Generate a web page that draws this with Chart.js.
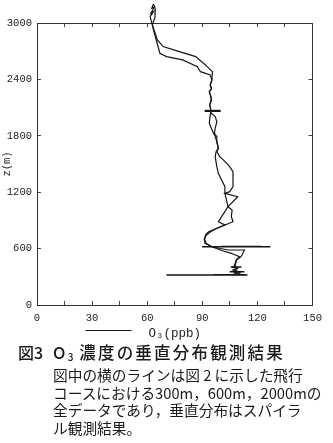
<!DOCTYPE html>
<html><head><meta charset="utf-8">
<script src="https://cdn.jsdelivr.net/npm/chart.js@4/dist/chart.umd.min.js"></script>
<style>
html,body{margin:0;padding:0;background:#fff;}
#wrap{position:relative;width:333px;height:443px;overflow:hidden;}
canvas{position:absolute;left:0;top:0;}
.cap{position:absolute;font-family:"Noto Sans CJK JP","Noto Sans",sans-serif;color:#1a1a1a;white-space:nowrap;}
#fig{left:18px;top:343px;font-size:16px;line-height:19px;font-weight:500;}
#t1{left:53px;top:343px;font-size:16.5px;line-height:19px;letter-spacing:2.2px;font-weight:500;}
#t1 sub{font-size:10px;vertical-align:-2px;letter-spacing:0;}
#body{left:53px;top:366px;font-size:14.7px;line-height:17.5px;}
</style></head>
<body><div id="wrap">
<canvas id="c" width="333" height="345"></canvas>
<div class="cap" id="fig">図3</div>
<div class="cap" id="t1">O<sub>3</sub> 濃度の垂直分布観測結果</div>
<div class="cap" id="body">図中の横のラインは図 2 に示した飛行<br>コースにおける300m，600m，2000mの<br>全データであり，垂直分布はスパイラ<br>ル観測結果。</div>
</div>
<script>
// Spiral profile, path A (O3 ppb, altitude m)
const o3A = [110.0,107.6,110.2,106.7,108.5,107.6,108.5,111.1,112.9,104.0,95.2,92.0,91.3,91.7,93.4,102.3,98.7,100.5,104.0,102.3,102.3,100.5,98.7,97.9,97.0,97.5,98.7,97.9,97.0,96.1,94.9,93.8,94.3,94.5,94.5,94.0,94.9,94.6,93.8,95.0,94.3,95.2,95.5,91.7,86.4,77.5,68.7,65.5,63.4,62.5,61.6,63.4,62.0,63.8,62.5,63.4];
const zA  = [319,340,354,372,390,426,479,514,585,585,620,656,692,745,780,851,886,940,1046,1188,1259,1330,1401,1472,1578,1631,1667,1738,1791,1827,1880,1933,2022,2060,2093,2130,2181,2220,2270,2300,2341,2394,2482,2554,2642,2695,2749,2820,2944,2997,3068,3121,3104,3168,3157,3203];
// Spiral profile, path B
const o3B = [108.0,110.5,107.0,108.0,109.3,106.5,108.0,108.5,110.2,105.8,100.5,95.2,91.5,91.0,92.2,94.5,97.9,102.3,106.7,105.8,106.2,104.0,109.3,102.3,104.9,106.7,106.7,106.7,104.9,102.4,99.5,97.9,98.7,97.9,97.9,96.6,97.0,97.9,97.0,94.9,94.5,94.5,94.0,94.9,94.6,93.8,95.0,94.3,95.2,94.3,89.0,87.3,79.3,70.5,66.9,63.4,62.8,64.2,64.4,63.4];
const zB  = [319,340,354,372,390,405,426,479,514,550,580,620,656,700,745,780,816,851,886,940,1011,1046,1152,1188,1206,1259,1330,1418,1472,1525,1578,1631,1667,1738,1791,1827,1880,1950,2004,2040,2060,2093,2130,2181,2220,2270,2300,2341,2394,2447,2482,2536,2607,2642,2678,2926,2980,3060,3150,3203];
// Horizontal flight legs (300 m, 600 m, 2000 m)
const o3Leg300 = [70.5,114.6,96.0,113.5,105.5,111.3,104.9,112.9];
const zLeg300  = [319,319,322,322,405,405,354,354];
const o3Leg600 = [89.9,127.0,100.0,122.0];
const zLeg600  = [620,620,622,622];
const o3Leg2000 = [91.3,100.0];
const zLeg2000  = [2065,2065];
const xTicks = [0,30,60,90,120,150];
const yTicks = [0,600,1200,1800,2400,3000];

function pts(xs, zs){ return xs.map((v,i)=>({x:v,y:zs[i]})); }
function legPts(xs, zs){ const out=[]; for(let i=0;i<xs.length;i+=2){ out.push({x:xs[i],y:zs[i]},{x:xs[i+1],y:zs[i+1]},{x:NaN,y:NaN}); } return out; }

const lineCol = '#151515';
const tickFont = {family:'"Liberation Mono", "DejaVu Sans Mono", monospace', size:10.5};
const titleFont = {family:'"Liberation Mono", "DejaVu Sans Mono", monospace', size:12.5};

const legLine = {
  id:'legLine',
  afterDraw(chart){
    const ctx = chart.ctx, ca = chart.chartArea;
    ctx.save();
    ctx.font = '12.5px "Liberation Mono", "DejaVu Sans Mono", monospace';
    const w = ctx.measureText('O₃(ppb)').width;
    const cx = (ca.left + ca.right)/2;
    const x2 = cx - w/2 - 17, x1 = x2 - 46;
    ctx.strokeStyle = lineCol; ctx.lineWidth = 1;
    ctx.beginPath(); ctx.moveTo(x1, 330.5); ctx.lineTo(x2, 330.5); ctx.stroke();
    ctx.restore();
  }
};

const dsBase = {showLine:true, pointRadius:0, borderColor:lineCol, backgroundColor:lineCol, clip:false, spanGaps:false, tension:0};
new Chart(document.getElementById('c'), {
  type:'scatter',
  data:{datasets:[
    Object.assign({label:'A', data:pts(o3A,zA), borderWidth:1.2}, dsBase),
    Object.assign({label:'B', data:pts(o3B,zB), borderWidth:1.2}, dsBase),
    Object.assign({label:'300m', data:legPts(o3Leg300,zLeg300), borderWidth:1.6}, dsBase),
    Object.assign({label:'600m', data:legPts(o3Leg600,zLeg600), borderWidth:1.5}, dsBase),
    Object.assign({label:'2000m', data:legPts(o3Leg2000,zLeg2000), borderWidth:2.2}, dsBase)
  ]},
  options:{
    responsive:false, animation:false,
    layout:{padding:{top:23,right:13,left:0,bottom:0}},
    plugins:{legend:{display:false}, tooltip:{enabled:false}},
    scales:{
      x:{type:'linear', position:'bottom', min:0, max:150,
        afterBuildTicks(s){ const t=[]; for(let v=0; v<=150; v+=15) t.push({value:v}); s.ticks=t; },
        ticks:{font:tickFont, color:'#222', padding:11, maxRotation:0, autoSkip:false,
          callback:(v)=> xTicks.includes(v) ? String(v) : ''},
        grid:{drawOnChartArea:false, drawTicks:true, tickLength:-4, color:'#444'},
        border:{display:true, color:'#333', width:1},
        title:{display:true, text:'O₃(ppb)', font:titleFont, color:'#222', padding:{top:0,bottom:4}},
        afterFit(s){ s.height = 40; }
      },
      y:{type:'linear', position:'left', min:0, max:3000,
        afterBuildTicks(s){ s.ticks = yTicks.map(v=>({value:v})); },
        ticks:{font:tickFont, color:'#222', padding:9, autoSkip:false, callback:(v)=>String(v)},
        grid:{drawOnChartArea:false, drawTicks:true, tickLength:-4, color:'#444'},
        border:{display:true, color:'#333', width:1},
        title:{display:true, text:'z(m)', font:{family:tickFont.family, size:10.5}, color:'#222', padding:{top:1,bottom:0}},
        afterFit(s){ s.width = 37; }
      },
      x2:{type:'linear', position:'top', min:0, max:150,
        afterBuildTicks(s){ const t=[]; for(let v=0; v<=150; v+=15) t.push({value:v}); s.ticks=t; },
        ticks:{display:false},
        grid:{drawOnChartArea:false, drawTicks:true, tickLength:-4, color:'#444'},
        border:{display:true, color:'#333', width:1},
        afterFit(s){ s.height = 0; }
      },
      y2:{type:'linear', position:'right', min:0, max:3000,
        afterBuildTicks(s){ s.ticks = yTicks.map(v=>({value:v})); },
        ticks:{display:false},
        grid:{drawOnChartArea:false, drawTicks:true, tickLength:-4, color:'#444'},
        border:{display:true, color:'#333', width:1},
        afterFit(s){ s.width = 0; }
      }
    }
  },
  plugins:[legLine]
});
</script>
</body></html>
